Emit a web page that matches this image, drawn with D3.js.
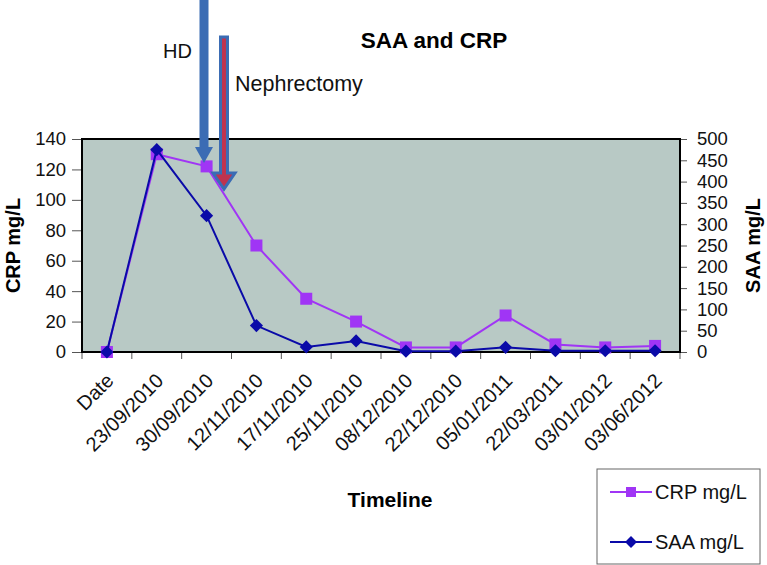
<!DOCTYPE html>
<html>
<head>
<meta charset="utf-8">
<script src="https://cdn.jsdelivr.net/npm/d3@7"></script>
<style>
  body { margin: 0; background: #fff; }
  text { font-family: "Liberation Sans", Arial, sans-serif; }
</style>
</head>
<body>
<div id="chart"></div>
<script>
const categories = ['Date', '23/09/2010', '30/09/2010', '12/11/2010', '17/11/2010', '25/11/2010',
  '08/12/2010', '22/12/2010', '05/01/2011', '22/03/2011', '03/01/2012', '03/06/2012'];
const crpValues = [0, 130, 122, 70, 35, 20, 3, 3, 24, 5, 3, 4];
const saaValues = [0, 475, 320, 62, 12, 26, 2, 2, 11, 3, 3, 3];
const crpTicks = [0, 20, 40, 60, 80, 100, 120, 140];
const saaTicks = [0, 50, 100, 150, 200, 250, 300, 350, 400, 450, 500];

const width = 767, height = 565;
const margin = { top: 139, right: 87, bottom: 213, left: 82 };
const innerW = width - margin.left - margin.right;
const innerH = height - margin.top - margin.bottom;

const crpColor = '#a035f5';
const saaColor = '#0a0aa8';

const svg = d3.select('#chart').append('svg')
  .attr('width', width)
  .attr('height', height);

const g = svg.append('g').attr('transform', `translate(${margin.left},${margin.top})`);

const x = d3.scaleBand().domain(categories).range([0, innerW]);
const yL = d3.scaleLinear().domain([0, 140]).range([innerH, 0]);
const yR = d3.scaleLinear().domain([0, 500]).range([innerH, 0]);

// plot background
g.append('rect')
  .attr('width', innerW)
  .attr('height', innerH)
  .attr('fill', '#b8c9c5');

// left axis
const leftAxis = g.append('g')
  .call(d3.axisLeft(yL).tickValues(crpTicks).tickSize(10).tickPadding(6));
leftAxis.select('.domain').remove();
leftAxis.selectAll('text').attr('font-size', 18.5).attr('fill', '#111');
leftAxis.selectAll('line').attr('stroke', '#555');

// right axis
const rightAxis = g.append('g')
  .attr('transform', `translate(${innerW},0)`)
  .call(d3.axisRight(yR).tickValues(saaTicks).tickSize(7).tickPadding(10));
rightAxis.select('.domain').remove();
rightAxis.selectAll('text').attr('font-size', 18.5).attr('fill', '#111');
rightAxis.selectAll('line').attr('stroke', '#555');

// bottom category ticks at band boundaries
const bounds = d3.range(categories.length + 1).map(i => i * x.step());
g.append('g')
  .selectAll('line')
  .data(bounds)
  .join('line')
  .attr('x1', d => d)
  .attr('x2', d => d)
  .attr('y1', innerH)
  .attr('y2', innerH + 7)
  .attr('stroke', '#555');

// category labels, rotated
g.append('g')
  .selectAll('text')
  .data(categories)
  .join('text')
  .attr('transform', d => `translate(${x(d) + x.bandwidth() / 2 + 3},${innerH + 25}) rotate(-45)`)
  .attr('text-anchor', 'end')
  .attr('dy', '0.35em')
  .attr('font-size', 20)
  .attr('fill', '#111')
  .text(d => d);

// plot border
g.append('rect')
  .attr('width', innerW)
  .attr('height', innerH)
  .attr('fill', 'none')
  .attr('stroke', '#000')
  .attr('stroke-width', 2);

const cx = (d, i) => x(categories[i]) + x.bandwidth() / 2;

// CRP line
g.append('path')
  .datum(crpValues)
  .attr('fill', 'none')
  .attr('stroke', crpColor)
  .attr('stroke-width', 2)
  .attr('d', d3.line().x(cx).y(d => yL(d)));

g.append('g')
  .selectAll('rect')
  .data(crpValues)
  .join('rect')
  .attr('x', (d, i) => cx(d, i) - 6)
  .attr('y', d => yL(d) - 6)
  .attr('width', 12)
  .attr('height', 12)
  .attr('fill', crpColor);

// SAA line
g.append('path')
  .datum(saaValues)
  .attr('fill', 'none')
  .attr('stroke', saaColor)
  .attr('stroke-width', 2)
  .attr('d', d3.line().x(cx).y(d => yR(d)));

const diamond = d3.symbol().type(d3.symbolDiamond2).size(110);
g.append('g')
  .selectAll('path')
  .data(saaValues)
  .join('path')
  .attr('transform', (d, i) => `translate(${cx(d, i)},${yR(d)})`)
  .attr('d', diamond)
  .attr('fill', saaColor);

// title and axis titles
svg.append('text')
  .attr('x', 434).attr('y', 48)
  .attr('text-anchor', 'middle')
  .attr('font-size', 22.5).attr('font-weight', 'bold')
  .text('SAA and CRP');

svg.append('text')
  .attr('transform', `translate(20,${margin.top + innerH / 2}) rotate(-90)`)
  .attr('text-anchor', 'middle')
  .attr('font-size', 20).attr('font-weight', 'bold')
  .text('CRP mg/L');

svg.append('text')
  .attr('transform', `translate(760,${margin.top + innerH / 2}) rotate(-90)`)
  .attr('text-anchor', 'middle')
  .attr('font-size', 20).attr('font-weight', 'bold')
  .text('SAA mg/L');

svg.append('text')
  .attr('x', 390).attr('y', 507)
  .attr('text-anchor', 'middle')
  .attr('font-size', 21).attr('font-weight', 'bold')
  .text('Timeline');

// event arrows (HD and nephrectomy)
function arrow(xc, yTop, yTip, shaftW, headW, headH, fill, stroke) {
  const sw = shaftW / 2, hw = headW / 2;
  const pts = [
    [xc - sw, yTop], [xc + sw, yTop], [xc + sw, yTip - headH], [xc + hw, yTip - headH],
    [xc, yTip], [xc - hw, yTip - headH], [xc - sw, yTip - headH]
  ];
  svg.append('path')
    .attr('d', d3.line()(pts) + 'Z')
    .attr('fill', fill)
    .attr('stroke', stroke)
    .attr('stroke-width', stroke === 'none' ? 0 : 3);
}
arrow(204, -5, 163, 9, 18, 16, '#3b6cb4', 'none');
arrow(224, 37, 189, 7, 22, 16, '#c0334f', '#3b6cb4');

svg.append('text')
  .attr('x', 163).attr('y', 58)
  .attr('font-family', 'Open Sans, sans-serif')
  .attr('font-size', 20).attr('fill', '#111')
  .text('HD');

svg.append('text')
  .attr('x', 235).attr('y', 91)
  .attr('font-family', 'Open Sans, sans-serif')
  .attr('font-size', 21.5).attr('fill', '#111')
  .text('Nephrectomy');

// legend
const lg = svg.append('g').attr('transform', 'translate(597,469)');
lg.append('rect')
  .attr('width', 163).attr('height', 95)
  .attr('fill', '#fff').attr('stroke', '#666');

const legendItems = [
  { label: 'CRP mg/L', color: crpColor, y: 23, shape: 'square' },
  { label: 'SAA mg/L', color: saaColor, y: 73, shape: 'diamond' }
];
legendItems.forEach(item => {
  lg.append('line')
    .attr('x1', 13).attr('x2', 55)
    .attr('y1', item.y).attr('y2', item.y)
    .attr('stroke', item.color).attr('stroke-width', 2);
  if (item.shape === 'square') {
    lg.append('rect')
      .attr('x', 29).attr('y', item.y - 5)
      .attr('width', 10).attr('height', 10)
      .attr('fill', item.color);
  } else {
    lg.append('path')
      .attr('transform', `translate(34,${item.y})`)
      .attr('d', d3.symbol().type(d3.symbolDiamond2).size(90))
      .attr('fill', item.color);
  }
  lg.append('text')
    .attr('x', 58).attr('y', item.y)
    .attr('dy', '0.35em')
    .attr('font-size', 20).attr('fill', '#111')
    .text(item.label);
});
</script>
</body>
</html>
